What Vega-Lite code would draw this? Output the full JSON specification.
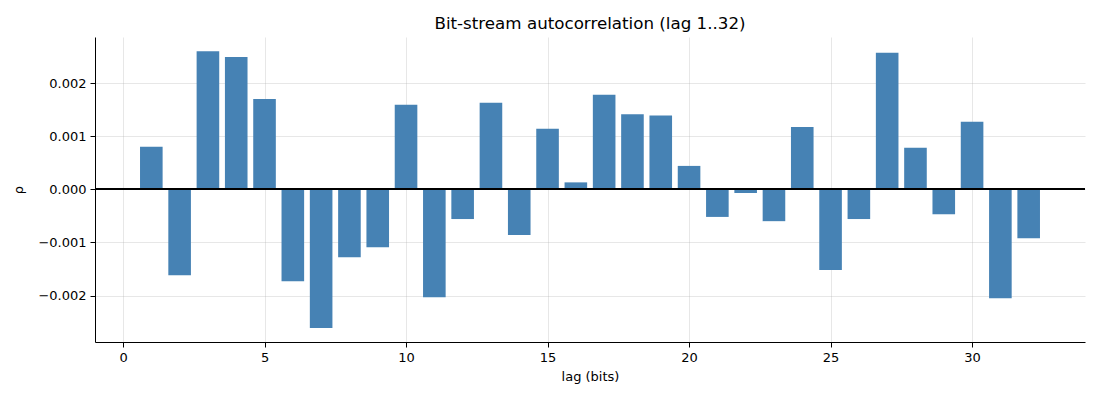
{
  "$schema": "https://vega.github.io/schema/vega-lite/v6.json",
  "autosize": "none",
  "width": 990,
  "height": 305,
  "padding": {"left": 95, "top": 37, "right": 15, "bottom": 58},
  "background": "white",
  "config": {
    "font": "DejaVu Sans",
    "view": {"stroke": null},
    "axis": {
      "labelFont": "DejaVu Sans",
      "titleFont": "DejaVu Sans",
      "labelFontSize": 13,
      "titleFontSize": 13,
      "labelColor": "black",
      "titleColor": "black",
      "titleFontWeight": "normal",
      "domainColor": "black",
      "tickColor": "black",
      "tickSize": 5,
      "labelPadding": 4,
      "gridColor": "#b0b0b0",
      "gridOpacity": 0.3,
      "zindex": 1
    }
  },
  "title": {
    "text": "Bit-stream autocorrelation (lag 1..32)",
    "font": "DejaVu Sans",
    "fontSize": 16.7,
    "fontWeight": "normal",
    "color": "black",
    "offset": 4
  },
  "data": {
    "values": [
      {"lag": 1, "rho": 0.00080},
      {"lag": 2, "rho": -0.00162},
      {"lag": 3, "rho": 0.00260},
      {"lag": 4, "rho": 0.00249},
      {"lag": 5, "rho": 0.00170},
      {"lag": 6, "rho": -0.00173},
      {"lag": 7, "rho": -0.00261},
      {"lag": 8, "rho": -0.00128},
      {"lag": 9, "rho": -0.00109},
      {"lag": 10, "rho": 0.00159},
      {"lag": 11, "rho": -0.00203},
      {"lag": 12, "rho": -0.00056},
      {"lag": 13, "rho": 0.00163},
      {"lag": 14, "rho": -0.00086},
      {"lag": 15, "rho": 0.00114},
      {"lag": 16, "rho": 0.00013},
      {"lag": 17, "rho": 0.00178},
      {"lag": 18, "rho": 0.00141},
      {"lag": 19, "rho": 0.00139},
      {"lag": 20, "rho": 0.00044},
      {"lag": 21, "rho": -0.00052},
      {"lag": 22, "rho": -0.00007},
      {"lag": 23, "rho": -0.00060},
      {"lag": 24, "rho": 0.00117},
      {"lag": 25, "rho": -0.00152},
      {"lag": 26, "rho": -0.00056},
      {"lag": 27, "rho": 0.00257},
      {"lag": 28, "rho": 0.00078},
      {"lag": 29, "rho": -0.00047},
      {"lag": 30, "rho": 0.00127},
      {"lag": 31, "rho": -0.00205},
      {"lag": 32, "rho": -0.00092}
    ]
  },
  "layer": [
    {
      "mark": {"type": "bar", "color": "#4682b4", "width": 22.6},
      "encoding": {
        "x": {
          "field": "lag",
          "type": "quantitative",
          "title": "lag (bits)",
          "scale": {"domain": [-0.99, 33.99], "nice": false, "zero": false, "padding": 0},
          "axis": {"values": [0, 5, 10, 15, 20, 25, 30], "format": "d", "grid": true, "titlePadding": 6}
        },
        "y": {
          "field": "rho",
          "type": "quantitative",
          "title": "ρ",
          "scale": {"domain": [-0.002874, 0.002866], "nice": false, "zero": false},
          "axis": {"values": [-0.002, -0.001, 0, 0.001, 0.002], "format": ".3f", "grid": true, "titlePadding": 12}
        }
      }
    },
    {
      "mark": {"type": "rule", "color": "black", "strokeWidth": 0.8},
      "encoding": {"y": {"datum": 0}}
    }
  ]
}
